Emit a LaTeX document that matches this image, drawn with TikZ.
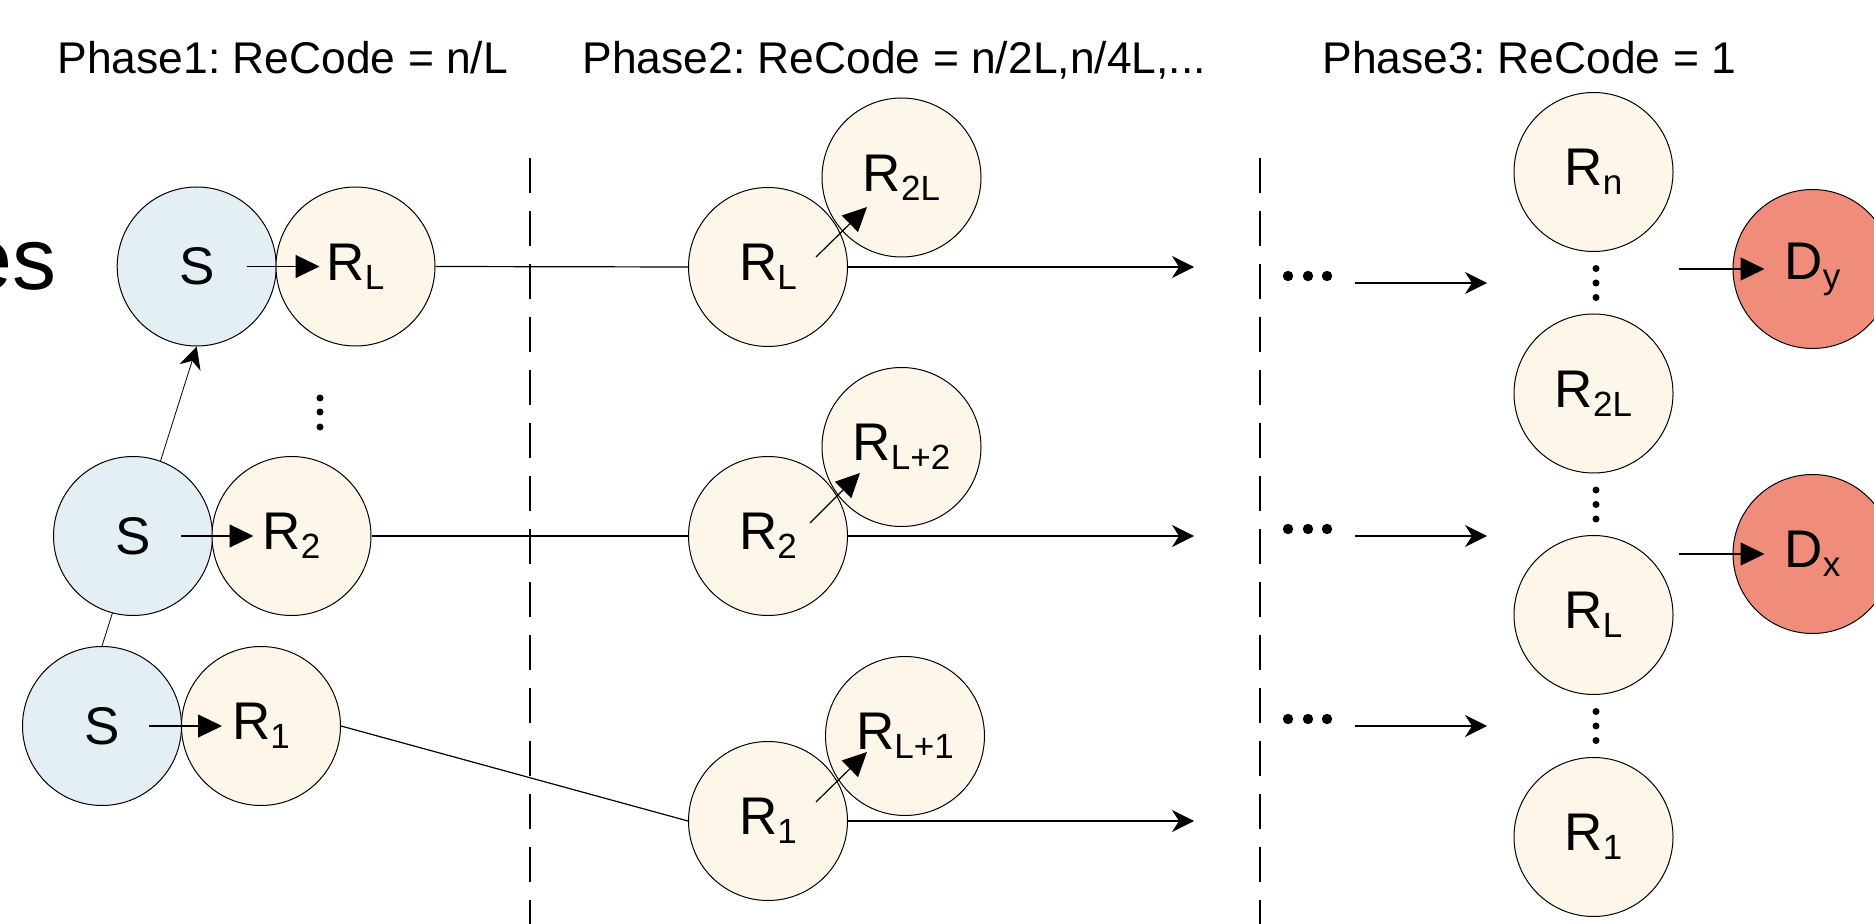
\documentclass[tikz,border=0pt]{standalone}
\usepackage{fontspec}
\setmainfont{Liberation Sans}
\usetikzlibrary{arrows.meta,backgrounds}
\frenchspacing

\definecolor{srcblue}{HTML}{E3EFF4}
\definecolor{relaycream}{HTML}{FEF6E9}
\definecolor{dstred}{HTML}{EF8C7A}

% relay / destination label with a lowered index
\newcommand{\rlab}[2]{#1\raisebox{-4.5pt}{\fontsize{17.5}{17.5}\selectfont #2}}

\begin{document}
\begin{tikzpicture}[
                            x=0.5pt,
                            y=-0.5pt,
                            line width=0.5pt,
                            >={Stealth[length=11pt,width=11pt,inset=3.5pt]},
                            blk/.style={-{Triangle[length=12pt,width=11.5pt]}},
                            semithick
                        ]
                        \tikzstyle{peer}=[circle,draw=black,line width=0.5pt,minimum size=79.5pt,inner sep=0pt,font=\fontsize{26.5}{26.5}\selectfont]
                        \tikzstyle{src}=[peer,fill=srcblue]
                        \tikzstyle{relay}=[peer,fill=relaycream]
                        \tikzstyle{dst}=[peer,fill=dstred]
                        \tikzstyle{phase}=[anchor=base west,inner sep=0pt,font=\fontsize{22.2}{22.2}\selectfont]

                        \useasboundingbox (0,0) rectangle (1874,924);

                        % titles
                        \node[phase] (ph1) at (57,74)   {Phase1: ReCode = n/L};
                        \node[phase] (ph2) at (582,74)  {Phase2: ReCode = n/2L,n/4L,...};
                        \node[phase] (ph3) at (1322,74) {Phase3: ReCode = 1};
                        \node[anchor=base east,inner sep=0pt,font=\fontsize{44}{44}\selectfont] (cut) at (57,290) {es};

                        % phase 1
                        \node[src]   (S3)  at (196.7,266.5) {S};
                        \node[relay] (RL1) at (355.5,266.5) {\rlab{R}{L}};
                        \node[src]   (S2)  at (133,536)     {S};
                        \node[relay] (R2)  at (291.5,536)   {\rlab{R}{2}};
                        \node[src]   (S1)  at (102,726)     {S};
                        \node[relay] (R1)  at (261,726)     {\rlab{R}{1}};

                        % phase 2
                        \node[relay] (RL2)   at (768,267)     {\rlab{R}{L}};
                        \node[relay] (R2L2)  at (901.5,177.5) {\rlab{R}{2L}};
                        \node[relay] (Rtwo2) at (768,536)     {\rlab{R}{2}};
                        \node[relay] (RL22)  at (901.5,447)   {\rlab{R}{L+2}};
                        \node[relay] (Rone2) at (768,821)     {\rlab{R}{1}};
                        \node[relay] (RL12)  at (905,736)     {\rlab{R}{L+1}};

                        % phase 3
                        \node[relay] (Rn)    at (1593.5,172)   {\rlab{R}{n}};
                        \node[relay] (R2L3)  at (1593.5,393.5) {\rlab{R}{2L}};
                        \node[relay] (RL3)   at (1593.5,615)   {\rlab{R}{L}};
                        \node[relay] (Rone3) at (1593.5,837)   {\rlab{R}{1}};
                        \node[dst]   (Dy)    at (1812.5,269)   {\rlab{D}{y}};
                        \node[dst]   (Dx)    at (1812.5,554)   {\rlab{D}{x}};

                        % free ends
                        \coordinate (eL) at (1194,267);
                        \coordinate (e2) at (1194,536);
                        \coordinate (e1) at (1194,821);
                        \coordinate (a1) at (1355,283);
                        \coordinate (b1) at (1487,283);
                        \coordinate (a2) at (1355,536);
                        \coordinate (b2) at (1487,536);
                        \coordinate (a3) at (1355,726);
                        \coordinate (b3) at (1487,726);
                        \coordinate (cy) at (1679,269);
                        \coordinate (cx) at (1679,554);

                        % phase borders
                        \draw[line width=1pt,dash pattern=on 17.5pt off 9pt] (530,158) -- (530,924);
                        \draw[line width=1pt,dash pattern=on 17.5pt off 9pt] (1260,158) -- (1260,924);

                        % dots
                        \foreach \y in {398,412,427}
                            \fill (320,\y) circle[radius=1.75pt];
                        \foreach \c in {283,504.5,726}
                            \foreach \d in {-14.5,0,14.5}
                                \fill (1596,\c+\d) circle[radius=1.75pt];
                        \foreach \r in {276,529,719}
                            \foreach \x in {1288,1308,1327}
                                \fill (\x,\r) circle[radius=2.6pt];

                        \begin{scope}[on background layer]
                            \draw[->] (S1.north) -- (S3.south);
                        \end{scope}

                        \path
                        (S3.center) edge [blk,shorten <=25pt,shorten >=18pt] (RL1.center)
                        (S2.center) edge [blk,shorten <=24pt,shorten >=19pt] (R2.center)
                        (S1.center) edge [blk,shorten <=23.5pt,shorten >=19.5pt] (R1.center)
                        (RL1.east)  edge (RL2.west)
                        (R2.east)   edge (Rtwo2.west)
                        (R1.east)   edge (Rone2.west)
                        (RL2.east)   edge [->] (eL)
                        (Rtwo2.east) edge [->] (e2)
                        (Rone2.east) edge [->] (e1)
                        ([shift={(48,-10)}]RL2.center)   edge [blk] ([shift={(-34.5,29.5)}]R2L2.center)
                        ([shift={(42,-13)}]Rtwo2.center) edge [blk] ([shift={(-41.5,26)}]RL22.center)
                        ([shift={(48,-19)}]Rone2.center) edge [blk] ([shift={(-38,16)}]RL12.center)
                        (a1) edge [->] (b1)
                        (a2) edge [->] (b2)
                        (a3) edge [->] (b3)
                        (cy) edge [blk] ([xshift=-24pt]Dy.center)
                        (cx) edge [blk] ([xshift=-24pt]Dx.center)
                        ;
                    \end{tikzpicture}
\end{document}
